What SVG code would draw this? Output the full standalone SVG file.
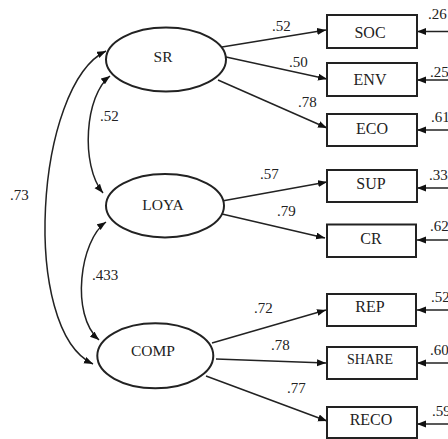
<svg xmlns="http://www.w3.org/2000/svg" width="448" height="439" viewBox="0 0 448 439">
<style>
  .node ellipse, .node rect { fill: #fff; stroke: #222; stroke-width: 2; }
  .lbl { font-family: "Liberation Serif", "Times New Roman", serif; font-size: 15.5px; fill: #222; text-anchor: middle; }
  .box { font-family: "Liberation Serif", "Times New Roman", serif; font-size: 16px; fill: #222; text-anchor: middle; }
  .num { font-family: "Liberation Serif", "Times New Roman", serif; font-size: 15px; fill: #222; }
  .conn path { fill: none; stroke: #222; stroke-width: 1.5; }
  .arrow { marker-end: url(#ah); }
  .both { marker-start: url(#ah); marker-end: url(#ah); }
</style>
<defs>
  <marker id="ah" markerUnits="userSpaceOnUse" markerWidth="10" markerHeight="8" refX="9" refY="3.5" orient="auto-start-reverse">
    <path d="M0,0 L9,3.5 L0,7 z" fill="#111"/>
  </marker>
</defs>
<rect width="448" height="439" fill="#fff"/>

<g class="conn">
  <path class="both" d="M106,51 C35,85 20,330 93,364"/>
  <path class="both" d="M110,76 C85,95 80,165 103,193"/>
  <path class="both" d="M106,222 C80,240 70,315 99,340"/>
  <path class="arrow" d="M222,47 L326,30"/>
  <path class="arrow" d="M226,57 L327,79"/>
  <path class="arrow" d="M218,80 L327,128"/>
  <path class="arrow" d="M222,201 L327,182"/>
  <path class="arrow" d="M222,214 L325,238"/>
  <path class="arrow" d="M212,343 L326,310"/>
  <path class="arrow" d="M216,359 L326,363"/>
  <path class="arrow" d="M206,376 L327,421"/>
  <path class="arrow" d="M448,31.5 L417,31.5"/>
  <path class="arrow" d="M448,80 L417,80"/>
  <path class="arrow" d="M448,130 L417,130"/>
  <path class="arrow" d="M448,188 L417,188"/>
  <path class="arrow" d="M448,240 L417,240"/>
  <path class="arrow" d="M448,310 L417,310"/>
  <path class="arrow" d="M448,363 L417,363"/>
  <path class="arrow" d="M448,424 L417,424"/>
</g>

<g id="labels">
  <text class="num" x="272" y="31">.52</text>
  <text class="num" x="289" y="67">.50</text>
  <text class="num" x="298" y="107">.78</text>
  <text class="num" x="260" y="179">.57</text>
  <text class="num" x="277" y="216">.79</text>
  <text class="num" x="254" y="313">.72</text>
  <text class="num" x="271" y="350">.78</text>
  <text class="num" x="287" y="393">.77</text>
  <text class="num" x="10" y="200">.73</text>
  <text class="num" x="100" y="121">.52</text>
  <text class="num" x="92" y="280">.433</text>
  <text class="num" x="428" y="19">.26</text>
  <text class="num" x="430" y="77">.25</text>
  <text class="num" x="431" y="122">.61</text>
  <text class="num" x="429" y="180">.33</text>
  <text class="num" x="430" y="231">.62</text>
  <text class="num" x="431" y="302">.52</text>
  <text class="num" x="430" y="355">.60</text>
  <text class="num" x="432" y="416">.59</text>
</g>

<g id="SR" class="node"><ellipse cx="166" cy="59.5" rx="60" ry="32"/><text class="lbl" x="163" y="62">SR</text></g>
<g id="LOYA" class="node"><ellipse cx="165" cy="205.7" rx="59" ry="31.7"/><text class="lbl" x="163" y="210">LOYA</text></g>
<g id="COMP" class="node"><ellipse cx="155.3" cy="355.8" rx="58" ry="32.5"/><text class="lbl" x="153" y="356">COMP</text></g>

<g id="SOC" class="node"><rect x="327" y="15" width="90" height="33"/><text class="box" x="370" y="38">SOC</text></g>
<g id="ENV" class="node"><rect x="327" y="63" width="90" height="33"/><text class="box" x="370" y="85">ENV</text></g>
<g id="ECO" class="node"><rect x="327" y="114" width="90" height="32"/><text class="box" x="372" y="134">ECO</text></g>
<g id="SUP" class="node"><rect x="327" y="170" width="90" height="32"/><text class="box" x="371" y="189">SUP</text></g>
<g id="CR" class="node"><rect x="327" y="224.5" width="89" height="32.5"/><text class="box" x="371" y="244">CR</text></g>
<g id="REP" class="node"><rect x="327" y="294" width="89" height="32"/><text class="box" x="370" y="312">REP</text></g>
<g id="SHARE" class="node"><rect x="327" y="347" width="90" height="32"/><text class="box" x="370" y="364" style="font-size:14px">SHARE</text></g>
<g id="RECO" class="node"><rect x="327" y="407" width="90" height="31"/><text class="box" x="371" y="425">RECO</text></g>
</svg>
